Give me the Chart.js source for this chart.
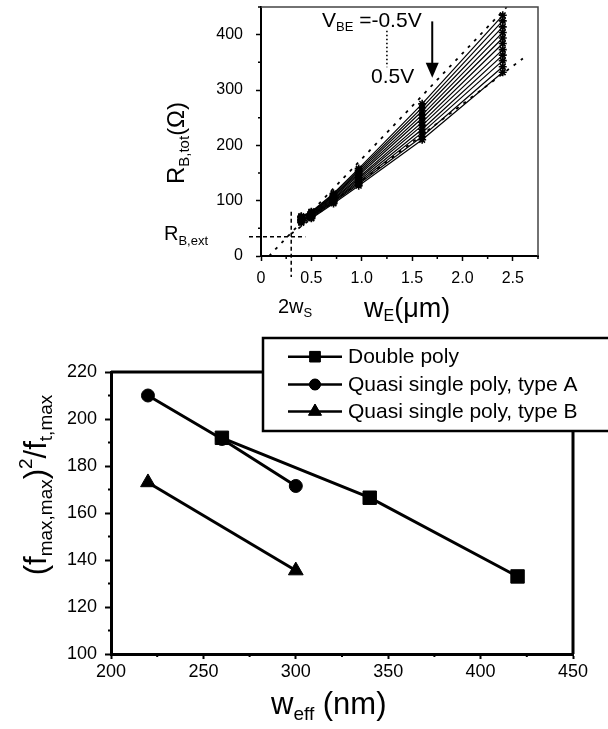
<!DOCTYPE html>
<html><head><meta charset="utf-8">
<script src="https://cdn.jsdelivr.net/npm/chart.js@4.4.1/dist/chart.umd.min.js"></script>
<style>
html,body{margin:0;padding:0;background:#fff;width:608px;height:729px;overflow:hidden}
canvas{position:absolute;left:0}
#c1{top:0}
#c2{top:330px}
</style></head><body>
<canvas id="c1" width="608" height="330"></canvas>
<canvas id="c2" width="608" height="399"></canvas>
<script>
const FONT = "'Liberation Sans', Arial, Helvetica, sans-serif";

// ---------- Top chart data ----------
const wE = [0.4, 0.5, 0.72, 0.97, 1.6, 2.4];
const vbeLabels = ['-0.5V','-0.4V','-0.3V','-0.2V','-0.1V','0V','0.1V','0.2V','0.3V','0.4V','0.5V'];
const rbTot = [
  [72, 80, 113, 158, 275, 435],
  [71, 79, 111, 155, 268, 425],
  [70, 78, 109, 152, 262, 414],
  [69, 77, 108, 149, 255, 404],
  [67, 75, 106, 146, 249, 394],
  [66, 74, 104, 142, 242, 384],
  [65, 73, 102, 139, 236, 373],
  [64, 72, 100, 136, 229, 363],
  [63, 71, 99, 133, 223, 353],
  [61, 69, 97, 130, 216, 342],
  [60, 68, 95, 127, 210, 332]
];
const upperFitX = [0.08, 2.44];
const upperFitY = [0, 450];
const lowerFitX = [0.3, 2.6];
const lowerFitY = [40, 357];
const rbExt = 35;
const twoWs = 0.3;
const topXTicks = [0, 0.5, 1.0, 1.5, 2.0, 2.5];
const topXMinor = [0.25, 0.75, 1.25, 1.75, 2.25, 2.75];
const topYTicks = [0, 100, 200, 300, 400];
const topYMinor = [50, 150, 250, 350, 450];
const vbeArrowX = 1.7, vbeArrowFrom = 424, vbeArrowTo = 322;
const vbeDotX = 1.25, vbeDotFrom = 407, vbeDotTo = 341;

// ---------- Bottom chart data ----------
const legendLabels = ['Double poly', 'Quasi single poly, type A', 'Quasi single poly, type B'];
const doublePolyX = [260, 340, 420];
const doublePolyY = [192, 166.5, 133];
const typeAX = [220, 260, 300];
const typeAY = [210, 191.5, 171.5];
const typeBX = [220, 300];
const typeBY = [173, 135.5];
const botXTicks = [200, 250, 300, 350, 400, 450];
const botXMinor = [225, 275, 325, 375, 425];
const botYTicks = [100, 120, 140, 160, 180, 200, 220];
const botYMinor = [110, 130, 150, 170, 190, 210];

// ---------- helpers ----------
function drawRich(ctx, parts, x, y) {
  let cx = x;
  ctx.textBaseline = 'alphabetic'; ctx.textAlign = 'left'; ctx.fillStyle = '#000';
  for (const p of parts) {
    ctx.font = p[1] + 'px ' + FONT;
    ctx.fillText(p[0], cx, y + (p[2] || 0));
    cx += ctx.measureText(p[0]).width;
  }
  return cx - x;
}
function richWidth(ctx, parts) {
  let w = 0;
  for (const p of parts) { ctx.font = p[1] + 'px ' + FONT; w += ctx.measureText(p[0]).width; }
  return w;
}
function minorTicks(chart, xs, ys, len, width) {
  const ctx = chart.ctx, a = chart.chartArea;
  const sx = chart.scales.x, sy = chart.scales.y;
  ctx.save(); ctx.strokeStyle = '#000'; ctx.lineWidth = width;
  ctx.beginPath();
  xs.forEach(v => { const p = sx.getPixelForValue(v); ctx.moveTo(p, a.bottom); ctx.lineTo(p, a.bottom + len); });
  ys.forEach(v => { const p = sy.getPixelForValue(v); ctx.moveTo(a.left, p); ctx.lineTo(a.left - len, p); });
  ctx.stroke(); ctx.restore();
}
function fixTicks(arr) { return scale => { scale.ticks = arr.map(v => ({ value: v })); }; }
function fitX(h) { return s => { s.height = h; s.paddingLeft = 0; s.paddingRight = 0; s.paddingTop = 0; s.paddingBottom = 0; }; }
function fitY(w) { return s => { s.width = w; s.paddingLeft = 0; s.paddingRight = 0; s.paddingTop = 0; s.paddingBottom = 0; }; }

// ---------- Top chart ----------
const topDatasets = rbTot.map((row, i) => ({
  label: 'VBE=' + vbeLabels[i],
  data: wE.map((x, j) => ({ x: x, y: row[j] })),
  showLine: true, borderColor: '#000', borderWidth: 1.2,
  pointStyle: 'star', pointRadius: 4, pointBorderWidth: 1.6,
  pointBorderColor: '#000', pointBackgroundColor: '#000'
}));
topDatasets.push({
  label: 'fit upper', data: upperFitX.map((x, j) => ({ x: x, y: upperFitY[j] })),
  showLine: true, borderColor: '#000', borderWidth: 1.8, borderDash: [3, 6], pointRadius: 0
});
topDatasets.push({
  label: 'fit lower', data: lowerFitX.map((x, j) => ({ x: x, y: lowerFitY[j] })),
  showLine: true, borderColor: '#000', borderWidth: 1.8, borderDash: [3, 6], pointRadius: 0
});

const topPlugin = {
  id: 'topAnno',
  afterDraw(chart) {
    const ctx = chart.ctx, a = chart.chartArea;
    const sx = chart.scales.x, sy = chart.scales.y;
    minorTicks(chart, topXMinor, topYMinor, 3, 1.5);
    ctx.save();
    // thin frame top/right
    ctx.strokeStyle = '#444'; ctx.lineWidth = 1.5;
    ctx.beginPath(); ctx.moveTo(a.left, a.top); ctx.lineTo(a.right, a.top); ctx.lineTo(a.right, a.bottom); ctx.stroke();
    // crosshair
    const cx = sx.getPixelForValue(twoWs), cy = sy.getPixelForValue(rbExt);
    ctx.strokeStyle = '#000'; ctx.lineWidth = 1.5; ctx.setLineDash([4, 3]);
    ctx.beginPath();
    ctx.moveTo(cx, sy.getPixelForValue(80)); ctx.lineTo(cx, a.bottom + 21);
    ctx.moveTo(a.left - 12, cy); ctx.lineTo(sx.getPixelForValue(0.44), cy);
    ctx.stroke();
    // dotted vertical
    ctx.setLineDash([1.5, 2.5]); ctx.lineWidth = 1.6;
    const dx = sx.getPixelForValue(vbeDotX);
    ctx.beginPath(); ctx.moveTo(dx, sy.getPixelForValue(vbeDotFrom)); ctx.lineTo(dx, sy.getPixelForValue(vbeDotTo)); ctx.stroke();
    ctx.setLineDash([]);
    // arrow
    const ax = sx.getPixelForValue(vbeArrowX);
    const ay1 = sy.getPixelForValue(vbeArrowFrom), ay2 = sy.getPixelForValue(vbeArrowTo);
    ctx.lineWidth = 2;
    ctx.beginPath(); ctx.moveTo(ax, ay1); ctx.lineTo(ax, ay2 - 12); ctx.stroke();
    ctx.fillStyle = '#000';
    ctx.beginPath(); ctx.moveTo(ax - 6.5, ay2 - 15); ctx.lineTo(ax + 6.5, ay2 - 15); ctx.lineTo(ax, ay2); ctx.closePath(); ctx.fill();
    // texts
    drawRich(ctx, [['V', 21], ['BE', 13, 4], [' =-0.5V', 21]], 322, 27);
    drawRich(ctx, [['0.5V', 21]], 371, 83);
    const extParts = [['R', 20], ['B,ext', 13, 5]];
    drawRich(ctx, extParts, 208 - richWidth(ctx, extParts), 240);
    drawRich(ctx, [['2w', 20], ['S', 13, 4]], 278, 313);
    drawRich(ctx, [['w', 27], ['E', 16, 4], ['(\u03bcm)', 27]], 364, 317);
    // y title rotated
    const tParts = [['R', 24], ['B,tot', 15, 5], ['(\u03a9)', 24]];
    const tw = richWidth(ctx, tParts);
    ctx.translate(184, 143); ctx.rotate(-Math.PI / 2);
    drawRich(ctx, tParts, -tw / 2, 0);
    ctx.restore();
  }
};

new Chart(document.getElementById('c1'), {
  type: 'scatter',
  data: { datasets: topDatasets },
  options: {
    responsive: false, animation: false, devicePixelRatio: 1,
    layout: { padding: { left: 0, top: 7, right: 70, bottom: 0 } },
    plugins: { legend: { display: false }, tooltip: { enabled: false } },
    scales: {
      x: {
        type: 'linear', min: 0, max: 2.75,
        afterBuildTicks: fixTicks(topXTicks),
        afterFit: fitX(74),
        grid: { display: true, drawOnChartArea: false, drawTicks: true, tickLength: 5, tickWidth: 1.5, tickColor: '#000' },
        border: { display: true, color: '#000', width: 2 },
        ticks: { color: '#000', font: { family: FONT, size: 16 }, padding: 8, maxRotation: 0, autoSkip: false,
          callback: v => v === 0 ? '0' : v.toFixed(1) }
      },
      y: {
        type: 'linear', min: 0, max: 450,
        afterBuildTicks: fixTicks(topYTicks),
        afterFit: fitY(261),
        grid: { display: true, drawOnChartArea: false, drawTicks: true, tickLength: 5, tickWidth: 1.5, tickColor: '#000' },
        border: { display: true, color: '#000', width: 2 },
        ticks: { color: '#000', font: { family: FONT, size: 16 }, padding: 13, autoSkip: false, callback: v => String(v) }
      }
    }
  },
  plugins: [topPlugin]
});

// ---------- Bottom chart ----------
const botStyles = [
  { pointStyle: 'rect', pointRadius: 9.5, legendRadius: 7.5 },
  { pointStyle: 'circle', pointRadius: 6.5, legendRadius: 5.5 },
  { pointStyle: 'triangle', pointRadius: 8.5, legendRadius: 7.5 }
];
const botSeries = [[doublePolyX, doublePolyY], [typeAX, typeAY], [typeBX, typeBY]];
const botDatasets = botSeries.map((s, i) => ({
  label: legendLabels[i],
  data: s[0].map((x, j) => ({ x: x, y: s[1][j] })),
  showLine: true, borderColor: '#000', borderWidth: 3,
  pointStyle: botStyles[i].pointStyle, pointRadius: botStyles[i].pointRadius,
  pointBorderWidth: 1, pointBorderColor: '#000', pointBackgroundColor: '#000'
}));

const OFF = 330;
const botPlugin = {
  id: 'botAnno',
  afterDraw(chart) {
    const ctx = chart.ctx, a = chart.chartArea;
    minorTicks(chart, botXMinor, botYMinor, 3, 2);
    ctx.save();
    ctx.strokeStyle = '#000'; ctx.lineWidth = 3;
    ctx.beginPath(); ctx.moveTo(a.left, a.top); ctx.lineTo(a.right, a.top); ctx.lineTo(a.right, a.bottom); ctx.stroke();
    // legend box
    const bx = 263, by = 338 - OFF, bw = 360, bh = 93;
    ctx.fillStyle = '#fff'; ctx.fillRect(bx, by, bw, bh);
    ctx.lineWidth = 2.5; ctx.strokeStyle = '#000'; ctx.strokeRect(bx, by, bw, bh);
    const rows = [356.7, 384.5, 411.5];
    legendLabels.forEach((lab, i) => {
      const ry = rows[i] - OFF;
      ctx.lineWidth = 2.5; ctx.strokeStyle = '#000';
      ctx.beginPath(); ctx.moveTo(288, ry); ctx.lineTo(342, ry); ctx.stroke();
      ctx.fillStyle = '#000'; ctx.lineWidth = 1;
      Chart.helpers.drawPoint(ctx, { pointStyle: botStyles[i].pointStyle, radius: botStyles[i].legendRadius, borderWidth: 1 }, 315, ry);
      ctx.fill();
      ctx.font = '21px ' + FONT; ctx.textBaseline = 'middle'; ctx.textAlign = 'left'; ctx.fillStyle = '#000';
      ctx.fillText(lab, 348, ry + 1);
    });
    // x title
    drawRich(ctx, [['w', 31], ['eff', 19, 6], [' (nm)', 31]], 271, 714 - OFF);
    // y title rotated
    const tParts = [['(', 31], ['f', 31], ['max,max', 19, 6], [')', 31], ['2', 19, -14], ['/', 31], ['f', 31], ['t,max', 19, 6]];
    const tw = richWidth(ctx, tParts);
    ctx.translate(46, 485 - OFF); ctx.rotate(-Math.PI / 2);
    drawRich(ctx, tParts, -tw / 2, 0);
    ctx.restore();
  }
};

new Chart(document.getElementById('c2'), {
  type: 'scatter',
  data: { datasets: botDatasets },
  options: {
    responsive: false, animation: false, devicePixelRatio: 1,
    layout: { padding: { left: 0, top: 42, right: 35, bottom: 0 } },
    plugins: { legend: { display: false }, tooltip: { enabled: false } },
    scales: {
      x: {
        type: 'linear', min: 200, max: 450,
        afterBuildTicks: fixTicks(botXTicks),
        afterFit: fitX(75),
        grid: { display: true, drawOnChartArea: false, drawTicks: true, tickLength: 5, tickWidth: 2, tickColor: '#000' },
        border: { display: true, color: '#000', width: 3 },
        ticks: { color: '#000', font: { family: FONT, size: 18 }, padding: 2, maxRotation: 0, autoSkip: false, callback: v => String(v) }
      },
      y: {
        type: 'linear', min: 100, max: 220,
        afterBuildTicks: fixTicks(botYTicks),
        afterFit: fitY(111),
        grid: { display: true, drawOnChartArea: false, drawTicks: true, tickLength: 6, tickWidth: 2, tickColor: '#000' },
        border: { display: true, color: '#000', width: 3 },
        ticks: { color: '#000', font: { family: FONT, size: 18 }, padding: 8, autoSkip: false, callback: v => String(v) }
      }
    }
  },
  plugins: [botPlugin]
});
</script>
</body></html>
